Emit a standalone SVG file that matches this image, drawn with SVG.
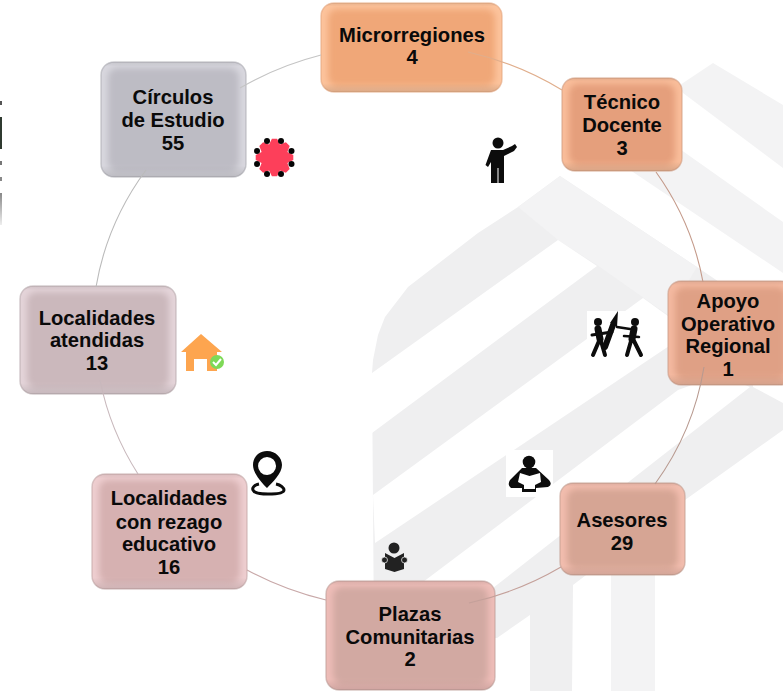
<svg xmlns="http://www.w3.org/2000/svg" width="783" height="691" viewBox="0 0 783 691">
<style>
text{font-family:"Liberation Sans",Arial,sans-serif;font-weight:700;font-size:20.2px;fill:#0a0a0a;text-anchor:middle}
.wm{fill:#efeff0}
.wm2{fill:#f3f3f4}
.hole{fill:#fff}
.c{fill:none;stroke-width:1.1}
.ic{fill:#0c0c0c}
.st{fill:none;stroke:#0c0c0c;stroke-linecap:round}
.edge{stroke-opacity:.55;stroke-width:1.5}
.bev{fill:url(#bev)}
</style>
<defs>
<filter id="b" x="-15%" y="-15%" width="130%" height="130%"><feGaussianBlur stdDeviation="3"/></filter>
<linearGradient id="fade" x1="0" y1="0" x2="0" y2="1"><stop offset="0" stop-color="#888"/><stop offset="1" stop-color="#eee"/></linearGradient>
<linearGradient id="bev" x1="0" y1="0" x2="0" y2="1"><stop offset="0" stop-color="#000" stop-opacity=".08"/><stop offset=".04" stop-color="#000" stop-opacity="0"/><stop offset=".9" stop-color="#000" stop-opacity="0"/><stop offset="1" stop-color="#000" stop-opacity=".13"/></linearGradient>
</defs>
<rect width="783" height="691" fill="#fff"/>
<g id="watermark">
<path class="wm2" d="M713 63L783 105V168L683 93L680 85Z"/>
<path class="wm2" d="M660 135L783 222V273L630 170L640 150Z"/>
<path class="wm" d="M372 373L373 360L378 335L385 317L408 287L478 233L518 207L560 176L697 267L783 325V430L685 500L573 585L572 691H530V615L497 638L374 638Z"/>
<path class="wm2" d="M518 207L560 176L697 267L668 315L597 265L558 240Z"/>
<path class="hole" d="M372 373L558 240L597 266L372 433Z"/>
<path class="hole" d="M373 495L643 298L690 332L375 543Z"/>
<path class="hole" d="M423 582L678 390L720 375L750 387L493 588L440 625Z"/>
<path class="hole" d="M753 387L783 403V380H753Z"/>
<path class="wm2" d="M611 570H655V691H611Z"/>
</g>
<g id="left-edge">
<rect x="0" y="101" width="2" height="4" fill="#555"/>
<rect x="0" y="117" width="2" height="32" fill="#2f3a30"/>
<rect x="0" y="161" width="2" height="4" fill="#777"/>
<rect x="0" y="177" width="2" height="4" fill="#888"/>
<rect x="0" y="193" width="2" height="32" fill="url(#fade)"/>
</g>
<g id="microrregiones">
<rect class="edge" x="321" y="3" width="181" height="89" rx="13" fill="#fcc39c" stroke="#e2a27a"/>
<rect x="328" y="9" width="167" height="77" rx="9" fill="#f0a778" filter="url(#b)"/>
<rect class="bev" x="321" y="3" width="181" height="89" rx="13"/>
<text x="412" y="42">Microrregiones</text><text x="412" y="64">4</text>
</g>
<g id="tecnico-docente">
<rect class="edge" x="562" y="78" width="120" height="93" rx="13" fill="#f9bd9a" stroke="#d09a80"/>
<rect x="569" y="84" width="106" height="81" rx="9" fill="#e59f7b" filter="url(#b)"/>
<rect class="bev" x="562" y="78" width="120" height="93" rx="13"/>
<text x="622" y="109">Técnico</text><text x="622" y="132">Docente</text><text x="622" y="155">3</text>
</g>
<g id="apoyo-operativo-regional">
<rect class="edge" x="668" y="281" width="125" height="104" rx="13" fill="#f4b9a0" stroke="#c89a88"/>
<rect x="675" y="287" width="111" height="92" rx="9" fill="#dfa085" filter="url(#b)"/>
<rect class="bev" x="668" y="281" width="125" height="104" rx="13"/>
<text x="728" y="308">Apoyo</text><text x="728" y="331">Operativo</text><text x="728" y="353">Regional</text><text x="728" y="376">1</text>
</g>
<g id="asesores">
<rect class="edge" x="560" y="483" width="125" height="92" rx="13" fill="#f2bdae" stroke="#c09a8e"/>
<rect x="567" y="489" width="111" height="80" rx="9" fill="#d6a594" filter="url(#b)"/>
<rect class="bev" x="560" y="483" width="125" height="92" rx="13"/>
<text x="622" y="527">Asesores</text><text x="622" y="550">29</text>
</g>
<g id="plazas-comunitarias">
<rect class="edge" x="326" y="581" width="169" height="109" rx="13" fill="#eebdb8" stroke="#bc9c98"/>
<rect x="333" y="587" width="155" height="97" rx="9" fill="#d2a9a2" filter="url(#b)"/>
<rect class="bev" x="326" y="581" width="169" height="109" rx="13"/>
<text x="410" y="621">Plazas</text><text x="410" y="644">Comunitarias</text><text x="410" y="666">2</text>
</g>
<g id="localidades-rezago">
<rect class="edge" x="92" y="474" width="155" height="115" rx="13" fill="#eeced0" stroke="#c0a4a4"/>
<rect x="99" y="480" width="141" height="103" rx="9" fill="#d6b1b1" filter="url(#b)"/>
<rect class="bev" x="92" y="474" width="155" height="115" rx="13"/>
<text x="169" y="505">Localidades</text><text x="169" y="529">con rezago</text><text x="169" y="551">educativo</text><text x="169" y="574">16</text>
</g>
<g id="localidades-atendidas">
<rect class="edge" x="20" y="286" width="156" height="108" rx="13" fill="#e4d4d9" stroke="#b4a6aa"/>
<rect x="27" y="292" width="142" height="96" rx="9" fill="#cbb8bc" filter="url(#b)"/>
<rect class="bev" x="20" y="286" width="156" height="108" rx="13"/>
<text x="97" y="325">Localidades</text><text x="97" y="347">atendidas</text><text x="97" y="370">13</text>
</g>
<g id="circulos-estudio">
<rect class="edge" x="101" y="62" width="145" height="115" rx="13" fill="#d8d7de" stroke="#a8a8ae"/>
<rect x="108" y="68" width="131" height="103" rx="9" fill="#bdbcc4" filter="url(#b)"/>
<rect class="bev" x="101" y="62" width="145" height="115" rx="13"/>
<text x="173" y="104">Círculos</text><text x="173" y="127">de Estudio</text><text x="173" y="150">55</text>
</g>
<g id="connectors">
<path class="c" stroke="#e0ae8c" d="M468 52A305 285 0 0 1 562 90"/>
<path class="c" stroke="#c49a8a" d="M656 172A305 285 0 0 1 703 282"/>
<path class="c" stroke="#b89a90" d="M704 367A305 285 0 0 1 655 484"/>
<path class="c" stroke="#c4a09a" d="M561 567A305 285 0 0 1 469 603"/>
<path class="c" stroke="#c8a8a8" d="M326 600A305 285 0 0 1 247 570"/>
<path class="c" stroke="#c8b8bc" d="M138 474A305 285 0 0 1 100 380"/>
<path class="c" stroke="#bbb" d="M96 287A305 285 0 0 1 146 170"/>
<path class="c" stroke="#c4c4c4" d="M240 88A305 285 0 0 1 321 55"/>
</g>
<g id="icon-circulo">
<path fill="#fd3f5a" transform="translate(274.5 157.5)" d="M18.8 2.6L12.9 5.4L15.2 11.4L11.4 15.2L5.4 12.9L2.6 18.8L-2.6 18.8L-5.4 12.9L-11.4 15.2L-15.2 11.4L-12.9 5.4L-18.8 2.6L-18.8 -2.6L-12.9 -5.4L-15.2 -11.4L-11.4 -15.2L-5.4 -12.9L-2.6 -18.8L2.6 -18.8L5.4 -12.9L11.4 -15.2L15.2 -11.4L12.9 -5.4L18.8 -2.6Z"/>
<g fill="#050505"><circle cx="267" cy="141" r="3"/><circle cx="281" cy="141" r="3"/><circle cx="291.500" cy="151" r="3"/><circle cx="291.500" cy="164" r="3"/><circle cx="281" cy="174" r="3"/><circle cx="267" cy="174" r="3"/><circle cx="257" cy="164" r="3"/><circle cx="257" cy="151" r="3"/></g>
</g>
<g id="icon-docente">
<rect x="485" y="137" width="32" height="47" fill="#fff"/>
<circle class="ic" cx="498" cy="143" r="5.5"/>
<path class="ic" d="M491 150H503L512 146L515 144L517 147L514 151L504 156V183H498.500V168H497.500V183H491V162L488 167L485.500 165Z"/>
</g>
<g id="icon-apoyo">
<rect x="587" y="311" width="56" height="48" fill="#fff"/>
<circle class="ic" cx="598" cy="322" r="4"/><circle class="ic" cx="635" cy="322" r="4"/>
<path class="st" stroke-width="7" d="M598 329L600 339"/><path class="st" stroke-width="4" d="M599 341L593 355M601 341L605 355"/>
<path class="st" stroke-width="6" d="M605 347L613 325"/><path class="ic" d="M610 323L618 311L617 327Z"/>
<path class="st" stroke-width="3" d="M592 335L612 332"/>
<path class="st" stroke-width="7" d="M634 329L632 339"/><path class="st" stroke-width="4" d="M631 341L627 355M634 341L641 355"/>
<path class="st" stroke-width="2.500" d="M630 329L617 327M624 336L639 337"/>
</g>
<g id="icon-asesores">
<rect x="506" y="450" width="47" height="47" fill="#fff"/>
<circle class="ic" cx="529" cy="462" r="6.300"/>
<path class="ic" d="M522 468H536L549 480Q553 485 548 487L536 488V492H522V488L511 488Q507 485 510 480Z"/>
<path fill="#fff" d="M520 473L529.500 476L540 473L541 482L535 485V489H524V485L518 482Z"/>
</g>
<g id="icon-plazas">
<circle fill="#222" cx="394" cy="548" r="5.500"/>
<path fill="#222" d="M385 553L394.500 558L404 553V569L394.500 572L385 569Z"/>
<circle fill="#222" stroke="#fff" stroke-width=".7" cx="384.500" cy="560" r="3"/><circle fill="#222" stroke="#fff" stroke-width=".7" cx="404.500" cy="560" r="3"/>
</g>
<g id="icon-casa">
<path fill="#fda54f" d="M201 334L222 352H217V371H207V359H194V371H186V352H181Z"/>
<circle cx="217" cy="362" r="7" fill="#7ed957"/>
<path d="M213 362L216 365L221 359" fill="none" stroke="#fff" stroke-width="2"/>
</g>
<g id="icon-ubicacion">
<path class="ic" fill-rule="evenodd" d="M267 451C276 451 282 458 282 465C282 473 273 482 267 488C261 482 253 473 253 465C253 458 258 451 267 451ZM267 457A9 9 0 1 0 267.100 475A9 9 0 1 0 267 457Z"/>
<path d="M259 484C254 485 252 488 253 490C254 493 260 494 268 494C277 494 284 493 284 490C284 488 281 485 276 484" fill="none" stroke="#0c0c0c" stroke-width="3"/>
</g>
</svg>
